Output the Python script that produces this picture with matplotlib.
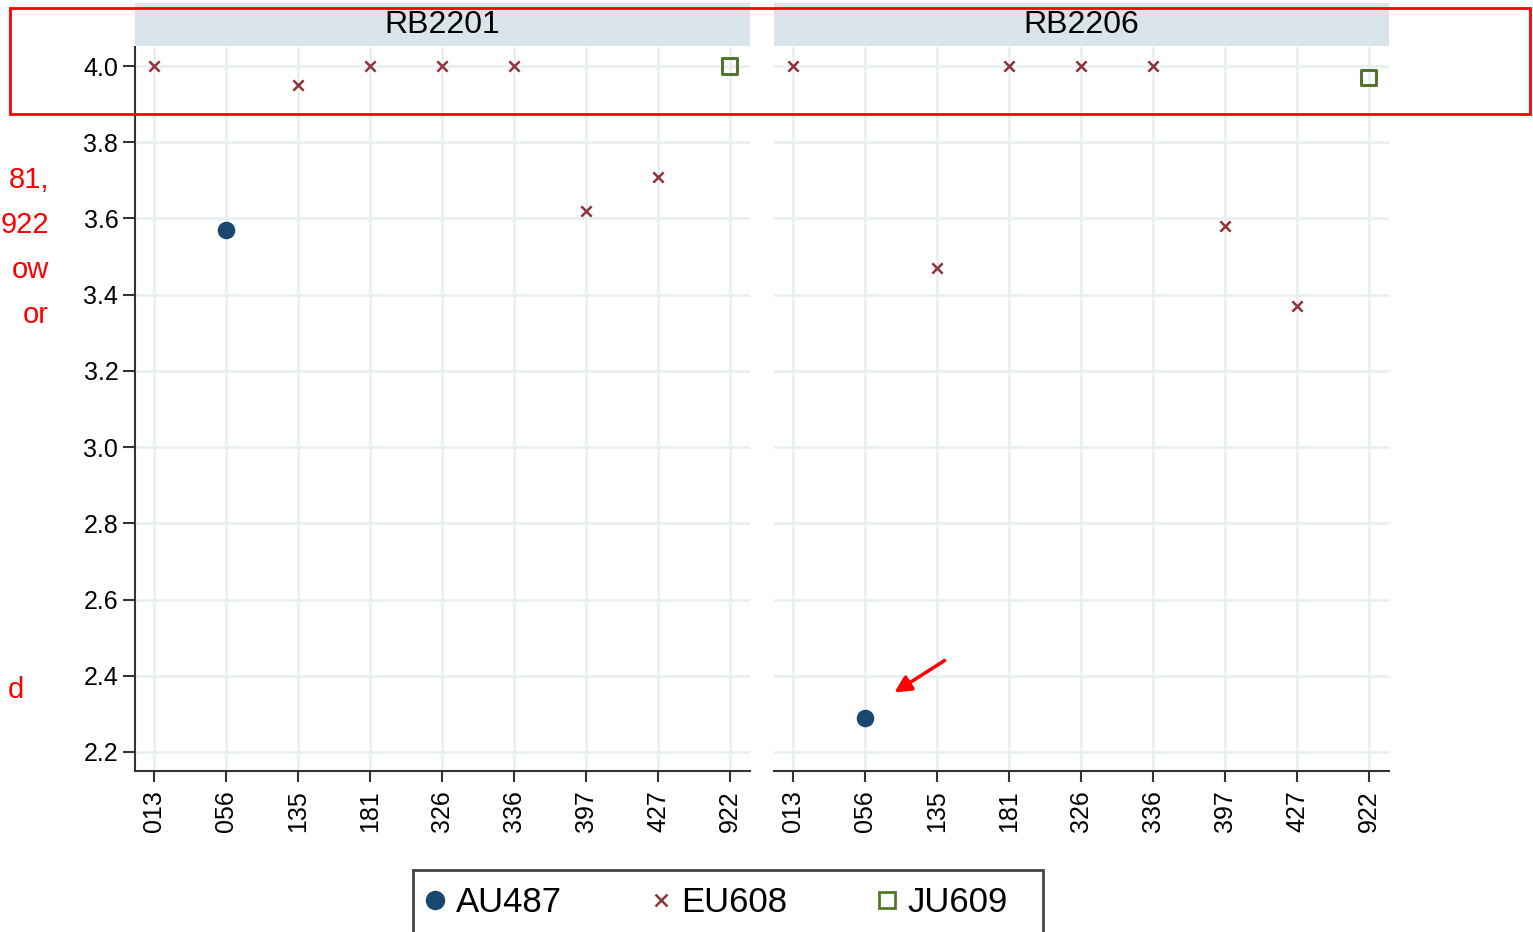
import matplotlib.pyplot as plt
from matplotlib.patches import Rectangle, FancyArrowPatch
from matplotlib.lines import Line2D

plt.rcParams['font.family'] = ['Liberation Sans', 'DejaVu Sans']

# data
categories = ['013', '056', '135', '181', '326', '336', '397', '427', '922']
panels = ['RB2201', 'RB2206']
groups = ['EU608', 'AU487', 'EU608', 'EU608', 'EU608', 'EU608', 'EU608', 'EU608', 'JU609']
rb2201 = [4.00, 3.57, 3.95, 4.00, 4.00, 4.00, 3.62, 3.71, 4.00]
rb2206 = [4.00, 2.29, 3.47, 4.00, 4.00, 4.00, 3.58, 3.37, 3.97]
y_ticks = [2.2, 2.4, 2.6, 2.8, 3.0, 3.2, 3.4, 3.6, 3.8, 4.0]
note_lines = ['81,', '922', 'ow', 'or']
note_tail = 'd'

styles = {
    'AU487': dict(marker='o', color='#1a476f', s=160, facecolor='#1a476f', lw=0),
    'EU608': dict(marker='x', color='#90353b', s=55, lw=1.8),
    'JU609': dict(marker='s', edgecolor='#55752f', facecolor='none', s=120, lw=2.2),
}

W, H = 1533, 932
fig = plt.figure(figsize=(W / 100, H / 100), dpi=100)

def fx(px):
    return px / W

def fy(py):
    return 1 - py / H

grid_c = '#e9f0f2'
strip_c = '#d9e5ea'
lefts = [135, 774]
for i, (name, vals) in enumerate(zip(panels, [rb2201, rb2206])):
    x0 = lefts[i]
    ax = fig.add_axes([fx(x0), fy(771), fx(615), (771 - 47) / H])
    for g in ['AU487', 'EU608', 'JU609']:
        xs = [k for k, gg in enumerate(groups) if gg == g]
        ys = [vals[k] for k in xs]
        ax.scatter(xs, ys, zorder=3, clip_on=False, **styles[g])
    ax.set_xlim(-0.265, 8.28)
    ax.set_ylim(2.15, 4.05)
    ax.set_xticks(range(len(categories)))
    ax.set_xticklabels(categories, rotation=90, fontsize=18)
    ax.set_yticks(y_ticks)
    ax.set_yticklabels([f'{v:.1f}' for v in y_ticks], fontsize=18)
    ax.grid(True, color=grid_c, lw=2)
    ax.set_axisbelow(True)
    for s in ['top', 'right']:
        ax.spines[s].set_visible(False)
    ax.spines['bottom'].set_color('#333333')
    ax.spines['bottom'].set_linewidth(1.5)
    ax.tick_params(axis='x', length=8, width=1.5, color='#333333', pad=6)
    if i == 0:
        ax.spines['left'].set_color('#333333')
        ax.spines['left'].set_linewidth(1.5)
        ax.tick_params(axis='y', length=9, width=1.5, color='#333333', pad=3)
    else:
        ax.spines['left'].set_visible(False)
        ax.tick_params(axis='y', left=False, labelleft=False)

    # facet strip
    sax = fig.add_axes([fx(x0), fy(46), fx(615), 43 / H])
    sax.set_facecolor(strip_c)
    sax.set_xticks([])
    sax.set_yticks([])
    for s in sax.spines.values():
        s.set_visible(False)
    sax.text(0.5, 0.48, name, ha='center', va='center', fontsize=23, transform=sax.transAxes)

# legend with a box running off the bottom edge
fig.add_artist(Rectangle((fx(413), fy(960)), fx(630), 90 / H, transform=fig.transFigure,
                         fill=False, edgecolor='#444444', lw=2, clip_on=False))
handles = [
    Line2D([], [], ls='', marker='o', color='#1a476f', markersize=13),
    Line2D([], [], ls='', marker='x', color='#90353b', markersize=8, mew=1.8),
    Line2D([], [], ls='', marker='s', markerfacecolor='none', markeredgecolor='#55752f',
           markersize=12, mew=2),
]
fig.legend(handles, ['AU487', 'EU608', 'JU609'], loc='center', bbox_to_anchor=(fx(716), fy(903)),
           ncol=3, frameon=False, fontsize=25, handlelength=0.6, handletextpad=0.3,
           columnspacing=2.55)

# red annotations
fig.add_artist(Rectangle((fx(10), fy(114)), fx(1520), 106 / H, transform=fig.transFigure,
                         fill=False, edgecolor='#ff0000', lw=2, zorder=10))
for k, t in enumerate(note_lines):
    fig.text(fx(49), fy(180 + 45 * k), t, ha='right', va='center', fontsize=21, color='#ff0000')
fig.text(fx(24), fy(690), note_tail, ha='right', va='center', fontsize=21, color='#ff0000')
fig.add_artist(FancyArrowPatch((fx(947), fy(659)), (fx(892), fy(694)), transform=fig.transFigure,
                               arrowstyle='-|>,head_length=10,head_width=5', color='#ff0000',
                               lw=2.5, zorder=10))

fig.savefig('out.png', dpi=100)
